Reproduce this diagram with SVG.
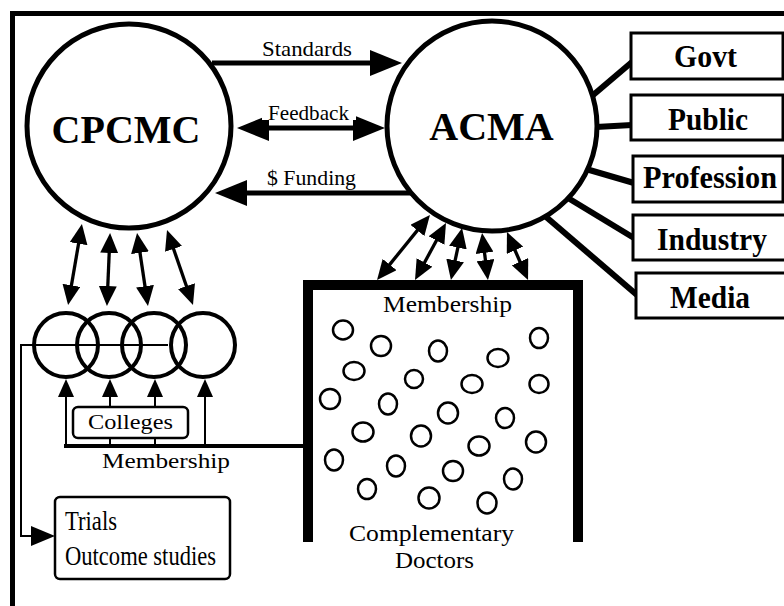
<svg xmlns="http://www.w3.org/2000/svg" width="784" height="606" viewBox="0 0 784 606">
<style>
text{font-family:"Liberation Serif","Times New Roman",serif;fill:#000}
.lbl{font-size:22px}
.title{font-size:40px;font-weight:bold;text-anchor:middle}
.btxt{font-size:31px;font-weight:bold;text-anchor:middle}
.big{fill:#fff;stroke:#000;stroke-width:5}
.box{fill:#fff;stroke:#000;stroke-width:3}
.rbox{fill:#fff;stroke:#000;stroke-width:2.5}
.col{fill:none;stroke:#000;stroke-width:4}
.doc{fill:none;stroke:#000;stroke-width:2.5}
.l5{fill:none;stroke:#000;stroke-width:5}
.l6{fill:none;stroke:#000;stroke-width:6}
.l3{fill:none;stroke:#000;stroke-width:3.3}
.l2{fill:none;stroke:#000;stroke-width:2}
.l4{fill:none;stroke:#000;stroke-width:4}
</style>
<defs>
<marker id="ahL" viewBox="0 0 32 26" markerUnits="userSpaceOnUse" markerWidth="32" markerHeight="26" refX="2" refY="13" orient="auto-start-reverse"><path d="M0,0L32,13L0,26z"/></marker>
<marker id="ahM" viewBox="0 0 20 18" markerUnits="userSpaceOnUse" markerWidth="20" markerHeight="18" refX="2" refY="9" orient="auto-start-reverse"><path d="M0,0L20,9L0,18z"/></marker>
<marker id="ahS" viewBox="0 0 18 16" markerUnits="userSpaceOnUse" markerWidth="18" markerHeight="16" refX="2" refY="8" orient="auto-start-reverse"><path d="M0,0L18,8L0,16z"/></marker>
<marker id="ahT" viewBox="0 0 24 20" markerUnits="userSpaceOnUse" markerWidth="24" markerHeight="20" refX="2" refY="10" orient="auto-start-reverse"><path d="M0,0L24,10L0,20z"/></marker>
</defs>
<rect width="784" height="606" fill="#fff"/>
<path class="l5" d="M12.5,606V13.5H784"/>

<g id="connectors">
<line class="l5" x1="212" y1="63" x2="372" y2="63" marker-end="url(#ahL)"/>
<line class="l5" x1="267" y1="128" x2="355" y2="128" marker-start="url(#ahL)" marker-end="url(#ahL)"/>
<line class="l5" x1="411" y1="193" x2="245" y2="193" marker-end="url(#ahL)"/>
<rect x="262" y="100" width="94" height="20" fill="#fff"/>
<line class="l3" x1="78.9" y1="241.7" x2="71.1" y2="287.3" marker-start="url(#ahM)" marker-end="url(#ahM)"/>
<line class="l3" x1="109.3" y1="251" x2="107.7" y2="288" marker-start="url(#ahM)" marker-end="url(#ahM)"/>
<line class="l3" x1="139.7" y1="250.8" x2="145.3" y2="288.2" marker-start="url(#ahM)" marker-end="url(#ahM)"/>
<line class="l3" x1="172.9" y1="247" x2="187.1" y2="288" marker-start="url(#ahM)" marker-end="url(#ahM)"/>
<line class="l3" x1="418.6" y1="228.9" x2="388.4" y2="266.1" marker-start="url(#ahM)" marker-end="url(#ahM)"/>
<line class="l3" x1="437.4" y1="238.8" x2="423.6" y2="264.2" marker-start="url(#ahM)" marker-end="url(#ahM)"/>
<line class="l3" x1="458.3" y1="245.6" x2="454.7" y2="262.4" marker-start="url(#ahM)" marker-end="url(#ahM)"/>
<line class="l3" x1="484.3" y1="250.9" x2="485.7" y2="262.1" marker-start="url(#ahM)" marker-end="url(#ahM)"/>
<line class="l3" x1="514.2" y1="248.5" x2="520.8" y2="263.5" marker-start="url(#ahM)" marker-end="url(#ahM)"/>
<line class="l6" x1="592" y1="96" x2="632" y2="62"/>
<line class="l6" x1="596" y1="127" x2="632" y2="125"/>
<line class="l6" x1="586" y1="169" x2="634" y2="183"/>
<line class="l6" x1="568" y1="198" x2="634" y2="238"/>
<line class="l6" x1="545" y1="216" x2="637" y2="295"/>
<path class="l2" d="M168,345H21V536H33" marker-end="url(#ahT)"/>
<line class="l4" x1="64" y1="446" x2="308" y2="446"/>
<line class="l2" x1="66" y1="446" x2="66" y2="395" marker-end="url(#ahS)"/>
<line class="l2" x1="110" y1="446" x2="110" y2="395" marker-end="url(#ahS)"/>
<line class="l2" x1="155" y1="446" x2="155" y2="395" marker-end="url(#ahS)"/>
<line class="l2" x1="205" y1="446" x2="205" y2="395" marker-end="url(#ahS)"/>
</g>

<g id="cpcmc">
<circle class="big" cx="129" cy="126" r="102"/>
<text class="title" x="126" y="143">CPCMC</text>
</g>
<g id="acma">
<circle class="big" cx="492" cy="126" r="105"/>
<text class="title" x="491.5" y="140">ACMA</text>
</g>

<g id="labels">
<text class="lbl" x="262" y="56" textLength="90" lengthAdjust="spacingAndGlyphs">Standards</text>
<text class="lbl" x="268" y="120" textLength="81" lengthAdjust="spacingAndGlyphs">Feedback</text>
<text class="lbl" x="267" y="185" textLength="89" lengthAdjust="spacingAndGlyphs">$ Funding</text>
</g>

<g id="govt"><rect class="box" x="631" y="33" width="152" height="46"/><text class="btxt" x="705.5" y="67" textLength="63" lengthAdjust="spacingAndGlyphs">Govt</text></g>
<g id="public"><rect class="box" x="631" y="95" width="152" height="45"/><text class="btxt" x="708" y="130" textLength="80" lengthAdjust="spacingAndGlyphs">Public</text></g>
<g id="profession"><rect class="box" x="633" y="156" width="150" height="46"/><text class="btxt" x="710" y="188" textLength="134" lengthAdjust="spacingAndGlyphs">Profession</text></g>
<g id="industry"><rect class="box" x="633" y="215" width="160" height="45"/><text class="btxt" x="712" y="250" textLength="110" lengthAdjust="spacingAndGlyphs">Industry</text></g>
<g id="media"><rect class="box" x="636" y="273" width="160" height="45"/><text class="btxt" x="710" y="308" textLength="80" lengthAdjust="spacingAndGlyphs">Media</text></g>

<g id="colleges-circles">
<circle class="col" cx="66" cy="345" r="32"/>
<circle class="col" cx="109" cy="345" r="32"/>
<circle class="col" cx="154" cy="345" r="32"/>
<circle class="col" cx="203" cy="345" r="32"/>
</g>
<g id="colleges">
<rect class="rbox" x="73" y="407" width="115" height="31" rx="5"/>
<text class="lbl" x="88" y="429" textLength="85" lengthAdjust="spacingAndGlyphs">Colleges</text>
</g>
<text class="lbl" x="102" y="468" textLength="128" lengthAdjust="spacingAndGlyphs">Membership</text>

<g id="trials">
<rect class="rbox" x="55" y="497" width="175" height="82" rx="5"/>
<text x="65" y="530" font-size="28" textLength="52" lengthAdjust="spacingAndGlyphs">Trials</text>
<text x="65" y="565" font-size="28" textLength="151" lengthAdjust="spacingAndGlyphs">Outcome studies</text>
</g>

<g id="complementary-doctors">
<path d="M308,542V285H578V542" fill="none" stroke="#000" stroke-width="10"/>
<text x="383" y="312" font-size="23" textLength="129" lengthAdjust="spacingAndGlyphs">Membership</text>
<ellipse class="doc" cx="343" cy="330" rx="10" ry="9.5"/>
<ellipse class="doc" cx="381" cy="346" rx="10" ry="10"/>
<ellipse class="doc" cx="438" cy="351" rx="9" ry="10.5"/>
<ellipse class="doc" cx="498" cy="358" rx="10.5" ry="9"/>
<ellipse class="doc" cx="539" cy="338" rx="9" ry="10"/>
<ellipse class="doc" cx="354" cy="371" rx="10.5" ry="9"/>
<ellipse class="doc" cx="414" cy="379" rx="9" ry="9"/>
<ellipse class="doc" cx="472" cy="384" rx="10.5" ry="9"/>
<ellipse class="doc" cx="539" cy="384" rx="9.5" ry="9"/>
<ellipse class="doc" cx="330" cy="399" rx="10" ry="10"/>
<ellipse class="doc" cx="388" cy="404" rx="9" ry="10.5"/>
<ellipse class="doc" cx="448" cy="413" rx="10" ry="10.5"/>
<ellipse class="doc" cx="505" cy="418" rx="9" ry="10"/>
<ellipse class="doc" cx="363" cy="432" rx="10.5" ry="9.5"/>
<ellipse class="doc" cx="421" cy="436" rx="10" ry="10.5"/>
<ellipse class="doc" cx="479" cy="446" rx="10.5" ry="9.5"/>
<ellipse class="doc" cx="536" cy="442" rx="10" ry="10.5"/>
<ellipse class="doc" cx="334" cy="460" rx="9" ry="10.5"/>
<ellipse class="doc" cx="396" cy="466" rx="9" ry="10.5"/>
<ellipse class="doc" cx="453" cy="471" rx="10" ry="10"/>
<ellipse class="doc" cx="513" cy="479" rx="9" ry="10.5"/>
<ellipse class="doc" cx="367" cy="489" rx="9" ry="10"/>
<ellipse class="doc" cx="429" cy="498" rx="10.5" ry="10.5"/>
<ellipse class="doc" cx="487" cy="503" rx="9.5" ry="10.5"/>
<text x="349" y="541" font-size="23" textLength="165" lengthAdjust="spacingAndGlyphs">Complementary</text>
<text x="395" y="568" font-size="23" textLength="79" lengthAdjust="spacingAndGlyphs">Doctors</text>
</g>
</svg>
